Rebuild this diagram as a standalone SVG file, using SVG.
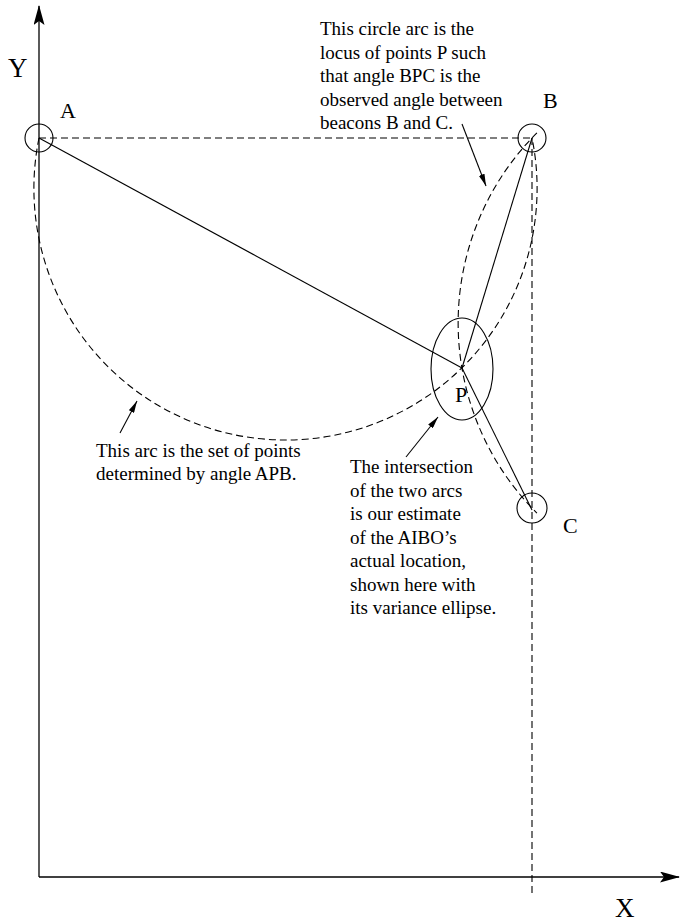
<svg xmlns="http://www.w3.org/2000/svg" width="680" height="922" viewBox="0 0 680 922">
<style>
.ln{stroke:#000;stroke-width:1.1;fill:none}
.dash{stroke:#000;stroke-width:1.1;fill:none;stroke-dasharray:7,4}
.ax{stroke:#000;stroke-width:1.3;fill:none}
.lbl{font-family:"Liberation Serif","Times New Roman",serif;font-size:22px;fill:#000}
.big{font-family:"Liberation Serif","Times New Roman",serif;font-size:27px;fill:#000}
.note{font-family:"Liberation Serif","Times New Roman",serif;font-size:19px;fill:#000}
</style>
<defs>
<marker id="ah" viewBox="0 0 12 6" refX="12" refY="3" markerWidth="12" markerHeight="6" markerUnits="userSpaceOnUse" orient="auto">
<path d="M0,0 L12,3 L0,6 Z" fill="#000"/>
</marker>
<marker id="axh" viewBox="0 0 20 11" refX="19" refY="5.5" markerWidth="20" markerHeight="11" markerUnits="userSpaceOnUse" orient="auto">
<path d="M0,0 L20,5.5 L0,11 L4,5.5 Z" fill="#000"/>
</marker>
</defs>
<g id="axes">
<line class="ax" x1="39" y1="877" x2="39" y2="6" marker-end="url(#axh)"/>
<line class="ax" x1="39" y1="877" x2="679" y2="877" marker-end="url(#axh)"/>
<text class="big" x="8" y="77">Y</text>
<text class="big" x="615" y="917">X</text>
</g>
<g id="connectors">
<line class="dash" x1="39" y1="138" x2="532" y2="138"/>
<line class="dash" x1="532" y1="138" x2="532" y2="893"/>
<path class="dash" d="M39,138 A251.6,251.6 0 1 0 532,138"/>
<path class="dash" d="M536.9,132.9 A268.8,268.8 0 0 0 536.9,513.1"/>
<line class="ln" x1="39" y1="138" x2="462" y2="368"/>
<line class="ln" x1="532" y1="138" x2="462" y2="368"/>
<line class="ln" x1="462" y1="368" x2="532" y2="510"/>
<line class="ln" x1="462" y1="124" x2="486" y2="186" marker-end="url(#ah)"/>
<line class="ln" x1="120" y1="433" x2="137" y2="401" marker-end="url(#ah)"/>
<line class="ln" x1="406" y1="457" x2="438" y2="417" marker-end="url(#ah)"/>
</g>
<g id="A">
<circle class="ln" cx="39" cy="138" r="14"/>
<text class="lbl" x="60" y="118">A</text>
</g>
<g id="B">
<circle class="ln" cx="532" cy="138" r="14"/>
<text class="lbl" x="543" y="108">B</text>
</g>
<g id="C">
<circle class="ln" cx="532" cy="508" r="15"/>
<text class="lbl" x="563" y="533">C</text>
</g>
<g id="P">
<ellipse class="ln" cx="462" cy="369" rx="31" ry="51"/>
<text class="lbl" x="455" y="402">P</text>
</g>
<g id="note-bpc">
<text class="note" x="320" y="35">This circle arc is the</text>
<text class="note" x="320" y="58.5">locus of points P such</text>
<text class="note" x="320" y="82">that angle BPC is the</text>
<text class="note" x="320" y="105.5">observed angle between</text>
<text class="note" x="320" y="129">beacons B and C.</text>
</g>
<g id="note-apb">
<text class="note" x="96" y="457">This arc is the set of points</text>
<text class="note" x="96" y="480">determined by angle APB.</text>
</g>
<g id="note-intersection">
<text class="note" x="350" y="473">The intersection</text>
<text class="note" x="350" y="496.5">of the two arcs</text>
<text class="note" x="350" y="520">is our estimate</text>
<text class="note" x="350" y="543.5">of the AIBO’s</text>
<text class="note" x="350" y="567">actual location,</text>
<text class="note" x="350" y="590.5">shown here with</text>
<text class="note" x="350" y="614">its variance ellipse.</text>
</g>
</svg>
